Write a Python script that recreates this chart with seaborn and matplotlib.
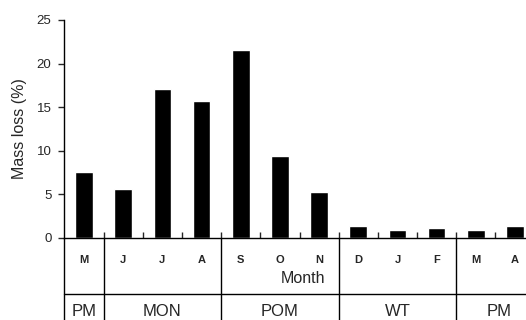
import numpy as np
import pandas as pd
import matplotlib
matplotlib.use("Agg")
import matplotlib.pyplot as plt
import seaborn as sns

months = ["M", "J", "J", "A", "S", "O", "N", "D", "J", "F", "M", "A"]
mass_loss = [7.6, 5.6, 17.1, 15.7, 21.6, 9.4, 5.3, 1.4, 0.95, 1.1, 0.95, 1.4]
seasons = ["PM", "MON", "POM", "WT", "PM"]
season_bounds = [(-0.51, 0.5), (0.5, 3.5), (3.5, 6.5), (6.5, 9.5), (9.5, 11.7)]

sns.set_style("white")
plt.rcParams["font.family"] = ["Liberation Sans", "DejaVu Sans"]

df = pd.DataFrame({"pos": np.arange(len(months)), "loss": mass_loss})

fig = plt.figure(figsize=(5.26, 3.2), dpi=100)
ax = fig.add_axes([64 / 526, 82 / 320, 1 - 64 / 526, 218 / 320])

sns.barplot(data=df, x="pos", y="loss", color="black", width=0.45,
            saturation=1, ax=ax)

ax.set_xlim(-0.51, 11.28)
ax.set_ylim(0, 25)
ax.set_yticks([0, 5, 10, 15, 20, 25])
ax.tick_params(axis="y", direction="out", length=4, width=1, pad=5,
               labelsize=9.5, left=True)
ax.set_xticks([])
ax.set_xticks(np.arange(0.5, 11, 1), minor=True)
ax.tick_params(axis="x", which="minor", direction="in", length=4, width=1,
               bottom=True)
ax.set_xlabel("")
ax.set_ylabel("Mass loss (%)", fontsize=11.5, labelpad=7)

for s in ["top", "right"]:
    ax.spines[s].set_visible(False)
for s in ["left", "bottom"]:
    ax.spines[s].set_color("black")
    ax.spines[s].set_linewidth(1)

trans = ax.get_xaxis_transform()
# table below the axis
ax.plot([-0.51, -0.51], [0, -0.38], color="black", lw=1, transform=trans, clip_on=False)
ax.plot([-0.51, 11.28], [-0.258, -0.258], color="black", lw=1, transform=trans, clip_on=False)
for b in [0.5, 3.5, 6.5, 9.5]:
    ax.plot([b, b], [0, -0.38], color="black", lw=1, transform=trans, clip_on=False)

for i, m in enumerate(months):
    ax.text(i, -0.10, m, ha="center", va="center", fontsize=8,
            fontweight="bold", transform=trans)
ax.text(5.6, -0.185, "Month", ha="center", va="center", fontsize=11.5, transform=trans)

for name, (a, b) in zip(seasons, season_bounds):
    ax.text((a + b) / 2, -0.335, name, ha="center", va="center", fontsize=12,
            transform=trans)

fig.savefig("out.png", dpi=100)
